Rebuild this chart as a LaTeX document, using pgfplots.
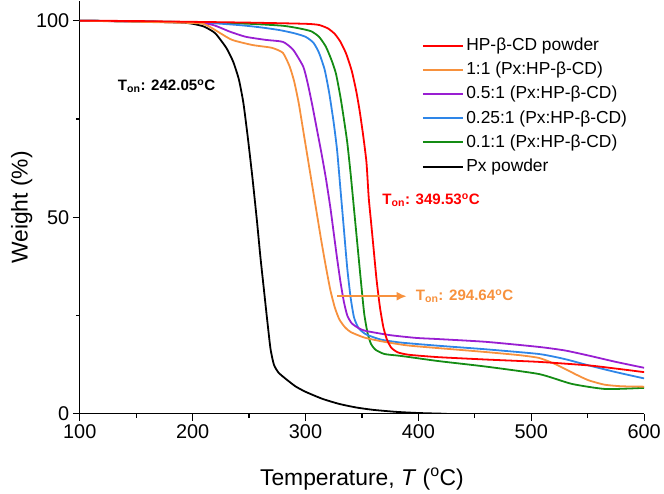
\documentclass[border=0pt]{standalone}
\usepackage{pgfplots}
\pgfplotsset{compat=1.18}
\usepackage{fontspec}
\setmainfont{Liberation Sans}
\usetikzlibrary{arrows.meta}
\pgfkeys{/pgf/number format/assume math mode=true}
\definecolor{cRed}{RGB}{255,0,0}
\definecolor{cOrange}{RGB}{247,145,61}
\definecolor{cPurple}{RGB}{153,30,210}
\definecolor{cBlue}{RGB}{46,134,232}
\definecolor{cGreen}{RGB}{20,140,20}
\begin{document}
\begin{tikzpicture}
\begin{axis}[
  at={(0,0)}, anchor=south west,
  scale only axis, width=566bp, height=414bp,
  xmin=100, xmax=600, ymin=0, ymax=105,
  axis x line*=bottom, axis y line*=left,
  axis line style={line width=1.3bp},
  xtick={100,200,...,600}, minor x tick num=1,
  ytick={0,50,100}, minor y tick num=1,
  xtick align=outside, ytick align=outside,
  tickwidth=7bp, subtickwidth=4bp,
  tick style={black, line width=1.2bp},
  xticklabel style={font=\fontsize{20}{24}\selectfont},
  yticklabel style={font=\fontsize{20}{24}\selectfont},
  xlabel={Temperature, \textit{T} (\textsuperscript{o}C)},
  ylabel={Weight (\%)},
  xlabel style={font=\fontsize{23}{27}\selectfont, at={(axis description cs:0.5,-0.157)}, anchor=center},
  ylabel style={font=\fontsize{23}{27}\selectfont, at={(axis description cs:-0.103,0.5)}, anchor=center},
  legend style={draw=none, fill=none, at={(axis description cs:0.606,0.921)}, anchor=north west,
    font=\fontsize{17.5}{21}\selectfont, inner sep=0pt, row sep=0pt,
    nodes={inner sep=2.5bp, text height=14.4bp, text depth=4.8bp}},
  legend cell align=left,
  legend image code/.code={\draw[#1, line width=2bp] (0bp,0bp) -- (40bp,0bp);},
]
\addlegendimage{cRed}\addlegendentry{HP-β-CD powder}
\addlegendimage{cOrange}\addlegendentry{1:1 (Px:HP-β-CD)}
\addlegendimage{cPurple}\addlegendentry{0.5:1 (Px:HP-β-CD)}
\addlegendimage{cBlue}\addlegendentry{0.25:1 (Px:HP-β-CD)}
\addlegendimage{cGreen}\addlegendentry{0.1:1 (Px:HP-β-CD)}
\addlegendimage{black}\addlegendentry{Px powder}

% Px powder
\addplot[black, forget plot, line width=1.8bp, smooth, tension=0.35] coordinates {
(100,100.0) (150,99.8) (190,99.5) (200,99.2) (210,98.5) (220,96.8) (230,93.0) (236,89.5) (241,85) (245,79) (249,70) (253,60) (257,49) (260,40) (263,32) (266,24) (269,16.5) (272,12.5) (276,10.5) (282,9.0) (291,7.0) (300,5.6) (315,3.8) (330,2.5) (345,1.6) (360,1.0) (380,0.5) (400,0.2) (425,0.0)
};
% 0.1:1
\addplot[cGreen, forget plot, line width=1.8bp, smooth, tension=0.35] coordinates {
(100,100.0) (200,99.6) (250,99.2) (280,98.7) (295,98.0) (305,97.3) (312,95.9) (318,93.4) (323,90.0) (327,86.5) (331,80.5) (334,75) (337,69) (340,61) (343,52) (346,43) (349,34) (352,25.5) (355,20.5) (358,17.8) (362,16.3) (370,15.2) (385,14.7) (418,13.4) (460,12.0) (507,10.1) (536,7.6) (566,6.3) (600,6.6)
};
% 0.25:1
\addplot[cBlue, forget plot, line width=1.8bp, smooth, tension=0.35] coordinates {
(100,100.0) (200,99.6) (240,98.9) (260,98.3) (277,97.6) (290,96.8) (300,95.9) (307,94.4) (312,91.8) (317,87.5) (321,81.6) (325,74) (328,67) (331,57) (334,47) (337,37) (340,29.5) (343,24.5) (347,21.8) (353,20.3) (360,19.5) (368,18.8) (385,18.1) (418,17.3) (460,16.4) (507,15.2) (530,13.9) (551,12.3) (575,10.6) (600,9.0)
};
% 0.5:1
\addplot[cPurple, forget plot, line width=1.8bp, smooth, tension=0.35] coordinates {
(100,100.0) (200,99.5) (218,98.9) (233,97.2) (247,95.9) (265,95.1) (280,94.6) (289,92.6) (298,88.3) (302,84) (306,78.5) (310,72.5) (314,66.5) (318,60) (322,52.5) (325,46) (328,39.5) (331,33.5) (334,28.5) (337,25) (341,23) (347,21.8) (353,21.1) (375,20.0) (398,19.3) (418,19.0) (460,18.3) (507,17.0) (530,16.1) (551,14.8) (575,13.2) (600,11.7)
};
% 1:1
\addplot[cOrange, forget plot, line width=1.8bp, smooth, tension=0.35] coordinates {
(100,100.0) (200,99.4) (212,98.9) (224,96.9) (235,95.1) (253,93.8) (270,93.1) (280,91.8) (286,88.3) (290,84.5) (294,79) (298,72) (302,65) (306,58) (310,51) (314,44) (318,37.5) (322,31.5) (326,27) (330,24) (335,22) (340,20.8) (352,19.4) (368,18.4) (390,17.4) (418,16.7) (460,15.7) (490,14.9) (507,14.2) (520,12.8) (530,11.4) (541,9.8) (551,8.5) (565,7.4) (580,7.0) (600,6.9)
};
% HP-beta-CD
\addplot[cRed, forget plot, line width=1.8bp, smooth, tension=0.35] coordinates {
(100,100.0) (150,99.9) (200,99.7) (250,99.5) (300,99.2) (312,98.9) (320,98.0) (326,96.6) (331,94.6) (336,91.6) (341,87.2) (345,82) (348,77) (351,71) (354,64) (356,55) (358,49) (360,43) (363,34) (366,27) (369,22) (372,19) (376,16.8) (382,15.6) (392,15.0) (418,14.4) (460,13.8) (507,13.2) (551,12.3) (575,11.5) (600,10.6)
};

\node[anchor=west, inner sep=0pt, font=\fontsize{15.2}{18}\selectfont\bfseries, text=black] at (axis cs:133.6,83.4) {T\textsubscript{on}: 242.05\textsuperscript{o}C};
\node[anchor=west, inner sep=0pt, font=\fontsize{15.2}{18}\selectfont\bfseries, text=cRed] at (axis cs:368,54.3) {T\textsubscript{on}: 349.53\textsuperscript{o}C};
\draw[cOrange, line width=1.5bp, -{Latex[length=10bp,width=9bp]}] (axis cs:328.1,29.9) -- (axis cs:389.5,29.9);
\node[anchor=west, inner sep=0pt, font=\fontsize{15.2}{18}\selectfont\bfseries, text=cOrange] at (axis cs:397.6,29.9) {T\textsubscript{on}: 294.64\textsuperscript{o}C};
\end{axis}
\path (-80bp,-80bp) rectangle (584bp,415bp);
\end{tikzpicture}
\end{document}
